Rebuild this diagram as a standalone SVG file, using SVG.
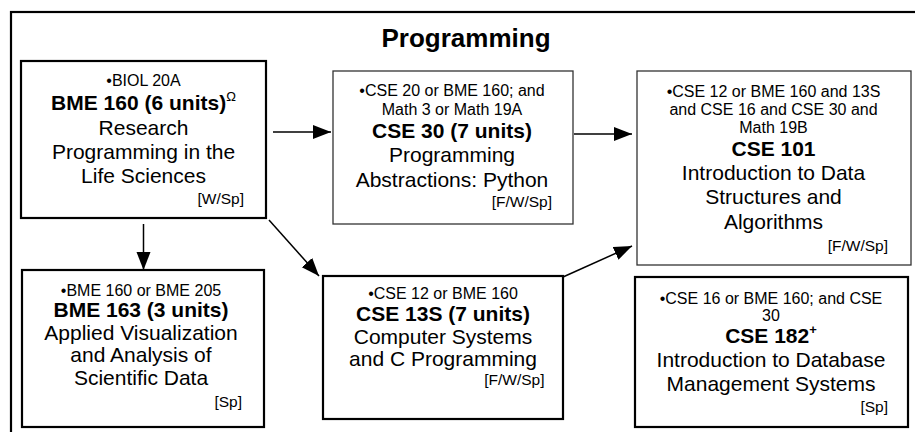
<svg xmlns="http://www.w3.org/2000/svg" width="915" height="432" viewBox="0 0 915 432">
<defs>
<style>
text{font-family:"Liberation Sans",Arial,sans-serif;fill:#000;text-anchor:middle}
.t{font-size:26px;font-weight:bold}
.s{font-size:16px}
.b{font-size:21px;font-weight:bold}
.r{font-size:21px}
.term{font-size:15.5px;text-anchor:end}
.thick{fill:#fff;stroke:#000;stroke-width:2.2}
.thin{fill:#fff;stroke:#333;stroke-width:1.3}
.frame{fill:none;stroke:#000;stroke-width:2.2}
.arr{stroke:#000;stroke-width:1.5;fill:none;marker-end:url(#ah)}
</style>
<marker id="ah" markerUnits="userSpaceOnUse" markerWidth="18" markerHeight="15" refX="18" refY="7" orient="auto" viewBox="0 0 18 14">
<path d="M0,0 L18,7 L0,14 z" fill="#000"/>
</marker>
</defs>
<rect class="frame" x="11" y="12" width="930" height="450"/>
<text class="t" x="466" y="47">Programming</text>
<g id="connectors">
<line class="arr" x1="273" y1="132" x2="331" y2="132"/>
<line class="arr" x1="574" y1="134" x2="632" y2="134"/>
<line class="arr" x1="143.5" y1="224" x2="143.5" y2="270"/>
<line class="arr" x1="269" y1="220" x2="319" y2="276"/>
<line class="arr" x1="563" y1="277" x2="632" y2="246"/>
</g>
<g id="bme160">
<rect class="thick" x="21" y="61" width="245" height="157"/>
<text class="s" x="143.5" y="86">•BIOL 20A</text>
<text class="b" x="143.5" y="110">BME 160 (6 units)<tspan font-size="13" font-weight="normal" dy="-9">Ω</tspan></text>
<text class="r" x="143.5" y="134.5">Research</text>
<text class="r" x="143.5" y="158.5">Programming in the</text>
<text class="r" x="143.5" y="183">Life Sciences</text>
<text class="term" x="244" y="204">[W/Sp]</text>
</g>
<g id="cse30">
<rect class="thin" x="333" y="71" width="240" height="153"/>
<text class="s" x="452" y="96">•CSE 20 or BME 160; and</text>
<text class="s" x="452" y="114.5">Math 3 or Math 19A</text>
<text class="b" x="452" y="137.5">CSE 30 (7 units)</text>
<text class="r" x="452" y="161.5">Programming</text>
<text class="r" x="452" y="186.5">Abstractions: Python</text>
<text class="term" x="552" y="206.5">[F/W/Sp]</text>
</g>
<g id="cse101">
<rect class="thin" x="637" y="71" width="274" height="194"/>
<text class="s" x="773.5" y="96.5">•CSE 12 or BME 160 and 13S</text>
<text class="s" x="773.5" y="115">and CSE 16 and CSE 30 and</text>
<text class="s" x="773.5" y="133">Math 19B</text>
<text class="b" x="773.5" y="156">CSE 101</text>
<text class="r" x="773.5" y="180">Introduction to Data</text>
<text class="r" x="773.5" y="204">Structures and</text>
<text class="r" x="773.5" y="229">Algorithms</text>
<text class="term" x="888" y="250.5">[F/W/Sp]</text>
</g>
<g id="bme163">
<rect class="thick" x="22" y="270" width="242" height="157"/>
<text class="s" x="141" y="295.5">•BME 160 or BME 205</text>
<text class="b" x="141" y="317">BME 163 (3 units)</text>
<text class="r" x="141" y="339.5">Applied Visualization</text>
<text class="r" x="141" y="362">and Analysis of</text>
<text class="r" x="141" y="385">Scientific Data</text>
<text class="term" x="242" y="406.5">[Sp]</text>
</g>
<g id="cse13s">
<rect class="thick" x="323" y="276" width="240" height="143"/>
<text class="s" x="443" y="299">•CSE 12 or BME 160</text>
<text class="b" x="443" y="321">CSE 13S (7 units)</text>
<text class="r" x="443" y="343.5">Computer Systems</text>
<text class="r" x="443" y="366">and C Programming</text>
<text class="term" x="544.5" y="385">[F/W/Sp]</text>
</g>
<g id="cse182">
<rect class="thick" x="635" y="277" width="273" height="150"/>
<text class="s" x="771" y="304">•CSE 16 or BME 160; and CSE</text>
<text class="s" x="771" y="321">30</text>
<text class="b" x="771" y="343">CSE 182<tspan font-size="13" dy="-9">+</tspan></text>
<text class="r" x="771" y="367">Introduction to Database</text>
<text class="r" x="771" y="391">Management Systems</text>
<text class="term" x="888" y="411.5">[Sp]</text>
</g>
</svg>
